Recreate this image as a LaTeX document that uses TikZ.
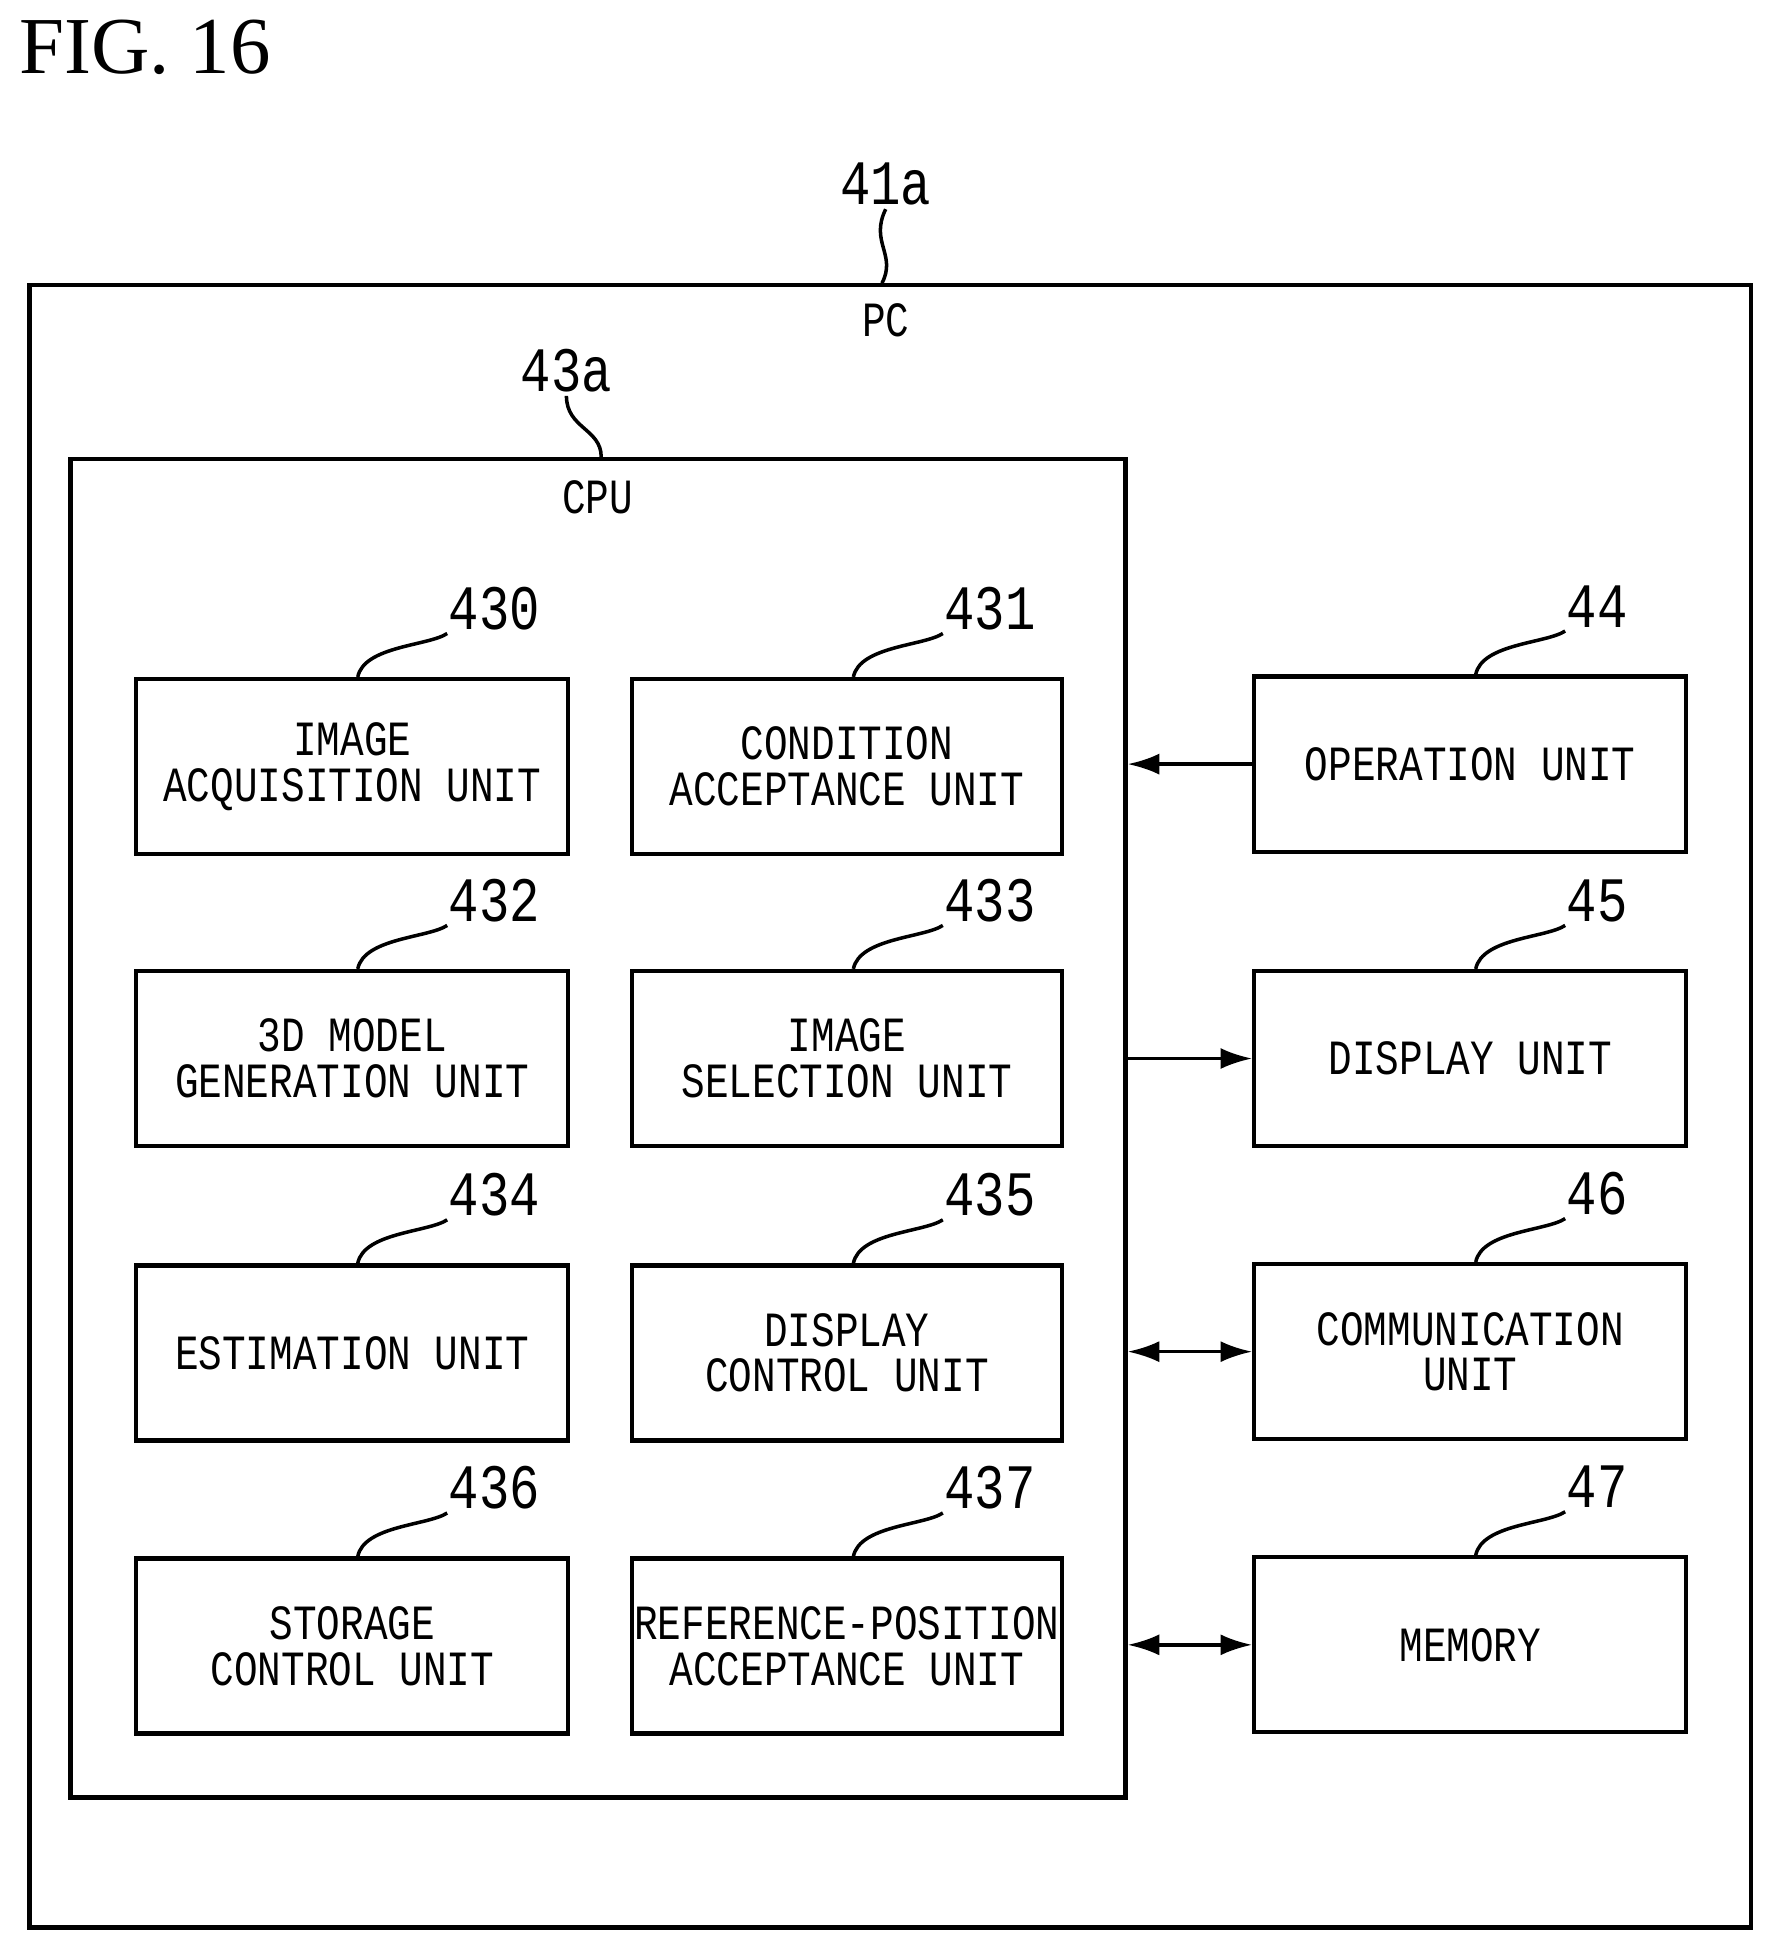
\documentclass[tikz,border=0pt]{standalone}
\usepackage{fontspec}
\setmonofont{Liberation Mono}[FakeStretch=0.8]
\setmainfont{Liberation Serif}
\usetikzlibrary{arrows.meta,calc}
\begin{document}
\begin{tikzpicture}[x=0.01242cm,y=-0.01242cm,
  box/.style={draw,line width=1.2pt,minimum width=#1,minimum height=1.75cm,inner sep=0pt,align=center,font=\ttfamily\fontsize{14}{13}\selectfont,anchor=north west},
  box/.default=4.32cm,
  num/.style={font=\ttfamily\fontsize{18}{20}\selectfont,inner sep=1pt},
  lead/.style={line width=1pt},
  arr/.style={line width=1pt,-{Latex[length=9pt,width=6pt]}},
  darr/.style={line width=1pt,{Latex[length=9pt,width=6pt]}-{Latex[length=9pt,width=6pt]}}]
\useasboundingbox (0,0) rectangle (1424,1565);
\node[font=\fontsize{23}{25}\selectfont,anchor=west,inner sep=0] (fig) at (15,38) {FIG. 16};
\node[draw,line width=1.2pt,minimum width=17.21cm,minimum height=16.42cm,anchor=north west,inner sep=0] (pc) at (22,228) {};
\node[num] (n41) at (713,148) {41a};
\node[font=\ttfamily\fontsize{14}{17}\selectfont] (pcl) at (713,258) {PC};
\draw[lead] (n41.south) .. controls (700,195) and (722,205) .. (pc.north -| 710,0);
\node[draw,line width=1.2pt,minimum width=10.55cm,minimum height=13.38cm,anchor=north west,inner sep=0] (cpu) at (55,368) {};
\node[num] (n43) at (456,298) {43a};
\node[font=\ttfamily\fontsize{14}{17}\selectfont] (cpul) at (481,400) {CPU};
\draw[lead] (n43.south) .. controls (456,345) and (484,345) .. (cpu.north -| 484,0);
\foreach \nm/\x/\y/\w/\t/\n in {
 a/108/545/4.32cm/{IMAGE\\ACQUISITION UNIT}/430,
 b/507/545/4.30cm/{CONDITION\\ACCEPTANCE UNIT}/431,
 c/108/780/4.32cm/{3D MODEL\\GENERATION UNIT}/432,
 d/507/780/4.30cm/{IMAGE\\SELECTION UNIT}/433,
 e/108/1017/4.32cm/{ESTIMATION UNIT}/434,
 f/507/1017/4.30cm/{DISPLAY\\CONTROL UNIT}/435,
 g/108/1253/4.32cm/{STORAGE\\CONTROL UNIT}/436,
 h/507/1253/4.30cm/{REFERENCE-POSITION\\ACCEPTANCE UNIT}/437,
 op/1008/543/4.32cm/{OPERATION UNIT}/44,
 di/1008/780/4.32cm/{DISPLAY UNIT}/45,
 co/1008/1016/4.32cm/{COMMUNICATION\\UNIT}/46,
 me/1008/1252/4.32cm/{MEMORY}/47}{
 \node[box=\w] (\nm) at (\x,\y) {\t};
 \node[num,anchor=west] (l\nm) at ($(\nm.north west)+(250,-55)$) {\n};
 \draw[lead] ($(\nm.north west)+(180,0)$) .. controls +(5,-25) and +(-15,10) .. ($(\nm.north west)+(252,-35)$);
}
\draw[arr] (op.west) -- (op.west -| cpu.east);
\draw[arr] (di.west -| cpu.east) -- (di.west);
\draw[darr] (co.west -| cpu.east) -- (co.west);
\draw[darr] (me.west -| cpu.east) -- (me.west);
\end{tikzpicture}
\end{document}
